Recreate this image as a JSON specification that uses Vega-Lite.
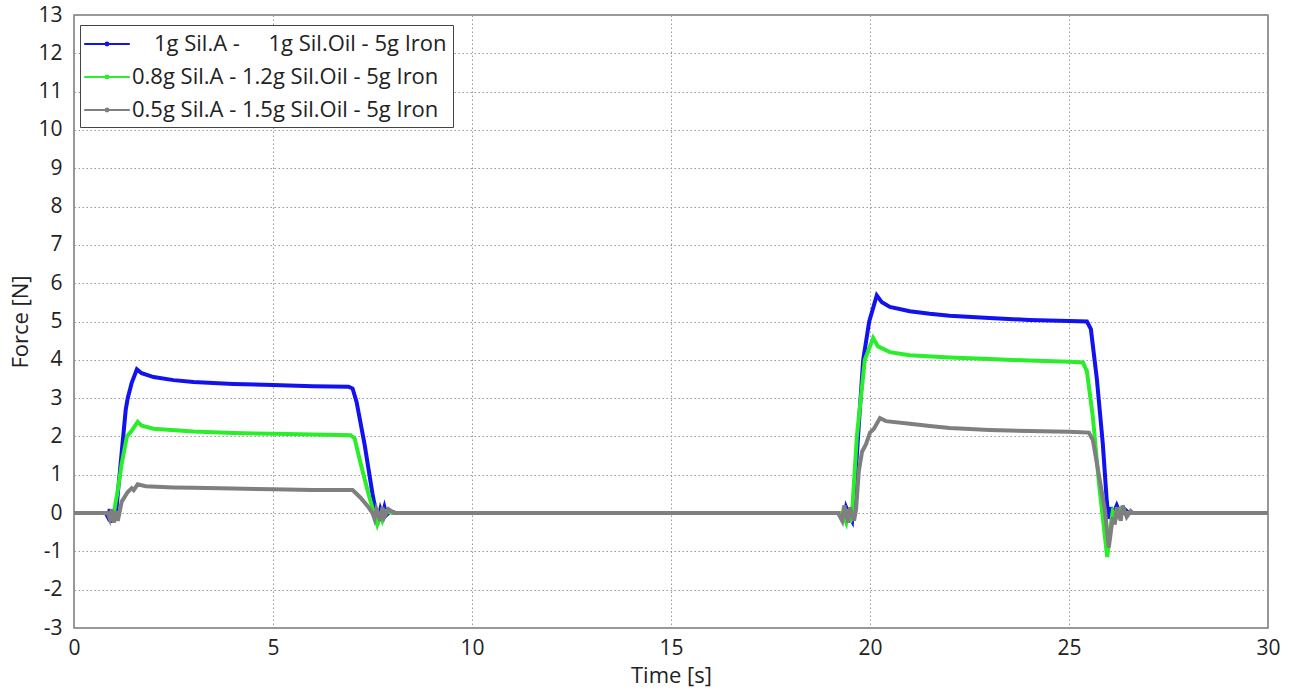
{
  "$schema": "https://vega.github.io/schema/vega-lite/v6.json",
  "autosize": "none",
  "width": 1194,
  "height": 613,
  "padding": {"left": 74, "top": 15, "right": 30, "bottom": 62},
  "background": "white",
  "config": {
    "font": "Open Sans",
    "view": {"stroke": "#777", "strokeWidth": 1.5},
    "axis": {
      "labelFont": "Open Sans", "titleFont": "Open Sans",
      "labelFontSize": 21, "titleFontSize": 22, "titleFontWeight": "normal",
      "labelColor": "#222", "titleColor": "#222", "labelFlush": false,
      "grid": true, "gridColor": "#999", "gridDash": [1.5, 2.5], "gridWidth": 1,
      "ticks": false, "domain": false
    }
  },
  "data": {
    "values": [
      {"t": 0, "f": 0, "s": "A"}, {"t": 0.8, "f": 0, "s": "A"}, {"t": 0.85, "f": -0.1, "s": "A"}, {"t": 0.9, "f": 0.1, "s": "A"}, {"t": 0.95, "f": -0.25, "s": "A"}, {"t": 1.0, "f": 0.05, "s": "A"}, {"t": 1.05, "f": -0.1, "s": "A"}, {"t": 1.1, "f": 0.5, "s": "A"}, {"t": 1.2, "f": 1.6, "s": "A"}, {"t": 1.3, "f": 2.7, "s": "A"}, {"t": 1.35, "f": 3.0, "s": "A"}, {"t": 1.45, "f": 3.4, "s": "A"}, {"t": 1.58, "f": 3.75, "s": "A"}, {"t": 1.7, "f": 3.65, "s": "A"}, {"t": 2.0, "f": 3.55, "s": "A"}, {"t": 2.5, "f": 3.47, "s": "A"}, {"t": 3, "f": 3.42, "s": "A"}, {"t": 4, "f": 3.37, "s": "A"}, {"t": 5, "f": 3.34, "s": "A"}, {"t": 6, "f": 3.31, "s": "A"}, {"t": 6.9, "f": 3.3, "s": "A"}, {"t": 7.0, "f": 3.25, "s": "A"}, {"t": 7.1, "f": 2.9, "s": "A"}, {"t": 7.3, "f": 1.8, "s": "A"}, {"t": 7.5, "f": 0.5, "s": "A"}, {"t": 7.6, "f": -0.05, "s": "A"}, {"t": 7.65, "f": -0.15, "s": "A"}, {"t": 7.7, "f": 0.1, "s": "A"}, {"t": 7.75, "f": -0.05, "s": "A"}, {"t": 7.8, "f": 0.15, "s": "A"}, {"t": 7.85, "f": -0.05, "s": "A"}, {"t": 7.95, "f": 0.05, "s": "A"}, {"t": 8.1, "f": 0, "s": "A"}, {"t": 19.2, "f": 0, "s": "A"}, {"t": 19.35, "f": -0.15, "s": "A"}, {"t": 19.4, "f": 0.15, "s": "A"}, {"t": 19.5, "f": -0.1, "s": "A"}, {"t": 19.55, "f": -0.2, "s": "A"}, {"t": 19.65, "f": 1.2, "s": "A"}, {"t": 19.75, "f": 2.8, "s": "A"}, {"t": 19.83, "f": 4.0, "s": "A"}, {"t": 19.98, "f": 5.0, "s": "A"}, {"t": 20.17, "f": 5.68, "s": "A"}, {"t": 20.3, "f": 5.5, "s": "A"}, {"t": 20.5, "f": 5.38, "s": "A"}, {"t": 21, "f": 5.27, "s": "A"}, {"t": 21.5, "f": 5.2, "s": "A"}, {"t": 22, "f": 5.15, "s": "A"}, {"t": 23, "f": 5.09, "s": "A"}, {"t": 24, "f": 5.04, "s": "A"}, {"t": 25, "f": 5.01, "s": "A"}, {"t": 25.45, "f": 5.0, "s": "A"}, {"t": 25.55, "f": 4.8, "s": "A"}, {"t": 25.7, "f": 3.5, "s": "A"}, {"t": 25.85, "f": 1.8, "s": "A"}, {"t": 25.95, "f": 0.3, "s": "A"}, {"t": 26.0, "f": -0.15, "s": "A"}, {"t": 26.05, "f": 0.15, "s": "A"}, {"t": 26.1, "f": -0.05, "s": "A"}, {"t": 26.2, "f": 0.2, "s": "A"}, {"t": 26.3, "f": -0.05, "s": "A"}, {"t": 26.4, "f": 0.1, "s": "A"}, {"t": 26.5, "f": 0, "s": "A"}, {"t": 30, "f": 0, "s": "A"},

      {"t": 0, "f": 0, "s": "B"}, {"t": 0.9, "f": 0, "s": "B"}, {"t": 0.95, "f": -0.1, "s": "B"}, {"t": 1.0, "f": 0, "s": "B"}, {"t": 1.1, "f": 0.6, "s": "B"}, {"t": 1.2, "f": 1.3, "s": "B"}, {"t": 1.33, "f": 2.0, "s": "B"}, {"t": 1.45, "f": 2.15, "s": "B"}, {"t": 1.6, "f": 2.38, "s": "B"}, {"t": 1.7, "f": 2.28, "s": "B"}, {"t": 2, "f": 2.2, "s": "B"}, {"t": 3, "f": 2.13, "s": "B"}, {"t": 4, "f": 2.09, "s": "B"}, {"t": 5, "f": 2.07, "s": "B"}, {"t": 6, "f": 2.05, "s": "B"}, {"t": 6.95, "f": 2.03, "s": "B"}, {"t": 7.05, "f": 1.95, "s": "B"}, {"t": 7.2, "f": 1.3, "s": "B"}, {"t": 7.4, "f": 0.5, "s": "B"}, {"t": 7.55, "f": -0.05, "s": "B"}, {"t": 7.62, "f": -0.3, "s": "B"}, {"t": 7.7, "f": -0.05, "s": "B"}, {"t": 7.75, "f": -0.2, "s": "B"}, {"t": 7.85, "f": 0.05, "s": "B"}, {"t": 8.0, "f": 0, "s": "B"}, {"t": 19.3, "f": 0, "s": "B"}, {"t": 19.4, "f": -0.25, "s": "B"}, {"t": 19.45, "f": 0.1, "s": "B"}, {"t": 19.5, "f": -0.25, "s": "B"}, {"t": 19.55, "f": 0, "s": "B"}, {"t": 19.67, "f": 2.0, "s": "B"}, {"t": 19.87, "f": 4.0, "s": "B"}, {"t": 20.08, "f": 4.57, "s": "B"}, {"t": 20.2, "f": 4.35, "s": "B"}, {"t": 20.5, "f": 4.2, "s": "B"}, {"t": 21, "f": 4.12, "s": "B"}, {"t": 22, "f": 4.06, "s": "B"}, {"t": 23, "f": 4.02, "s": "B"}, {"t": 24, "f": 3.98, "s": "B"}, {"t": 25, "f": 3.95, "s": "B"}, {"t": 25.35, "f": 3.93, "s": "B"}, {"t": 25.45, "f": 3.7, "s": "B"}, {"t": 25.6, "f": 2.5, "s": "B"}, {"t": 25.75, "f": 0.8, "s": "B"}, {"t": 25.9, "f": -0.6, "s": "B"}, {"t": 25.96, "f": -1.15, "s": "B"}, {"t": 26.0, "f": -0.8, "s": "B"}, {"t": 26.05, "f": -0.3, "s": "B"}, {"t": 26.1, "f": 0.05, "s": "B"}, {"t": 26.2, "f": -0.1, "s": "B"}, {"t": 26.3, "f": 0.1, "s": "B"}, {"t": 26.4, "f": 0, "s": "B"}, {"t": 30, "f": 0, "s": "B"},

      {"t": 0, "f": 0, "s": "C"}, {"t": 0.85, "f": 0, "s": "C"}, {"t": 0.9, "f": -0.15, "s": "C"}, {"t": 0.95, "f": 0.1, "s": "C"}, {"t": 1.0, "f": -0.25, "s": "C"}, {"t": 1.05, "f": 0.05, "s": "C"}, {"t": 1.1, "f": -0.2, "s": "C"}, {"t": 1.2, "f": 0.3, "s": "C"}, {"t": 1.35, "f": 0.55, "s": "C"}, {"t": 1.45, "f": 0.65, "s": "C"}, {"t": 1.5, "f": 0.6, "s": "C"}, {"t": 1.6, "f": 0.75, "s": "C"}, {"t": 1.8, "f": 0.7, "s": "C"}, {"t": 2.5, "f": 0.67, "s": "C"}, {"t": 3, "f": 0.66, "s": "C"}, {"t": 4, "f": 0.64, "s": "C"}, {"t": 5, "f": 0.62, "s": "C"}, {"t": 6, "f": 0.6, "s": "C"}, {"t": 7.0, "f": 0.6, "s": "C"}, {"t": 7.2, "f": 0.4, "s": "C"}, {"t": 7.4, "f": 0.15, "s": "C"}, {"t": 7.5, "f": 0, "s": "C"}, {"t": 7.55, "f": -0.15, "s": "C"}, {"t": 7.6, "f": 0.1, "s": "C"}, {"t": 7.7, "f": -0.2, "s": "C"}, {"t": 7.75, "f": 0.15, "s": "C"}, {"t": 7.8, "f": -0.1, "s": "C"}, {"t": 7.9, "f": 0.1, "s": "C"}, {"t": 8.05, "f": 0, "s": "C"}, {"t": 19.2, "f": 0, "s": "C"}, {"t": 19.3, "f": -0.2, "s": "C"}, {"t": 19.35, "f": 0.2, "s": "C"}, {"t": 19.45, "f": -0.25, "s": "C"}, {"t": 19.5, "f": 0.15, "s": "C"}, {"t": 19.6, "f": -0.2, "s": "C"}, {"t": 19.65, "f": 0.1, "s": "C"}, {"t": 19.72, "f": 1.1, "s": "C"}, {"t": 19.8, "f": 1.6, "s": "C"}, {"t": 19.9, "f": 1.8, "s": "C"}, {"t": 20.0, "f": 2.1, "s": "C"}, {"t": 20.1, "f": 2.2, "s": "C"}, {"t": 20.25, "f": 2.48, "s": "C"}, {"t": 20.4, "f": 2.4, "s": "C"}, {"t": 21, "f": 2.33, "s": "C"}, {"t": 21.5, "f": 2.27, "s": "C"}, {"t": 22, "f": 2.22, "s": "C"}, {"t": 23, "f": 2.17, "s": "C"}, {"t": 24, "f": 2.14, "s": "C"}, {"t": 25, "f": 2.12, "s": "C"}, {"t": 25.5, "f": 2.1, "s": "C"}, {"t": 25.6, "f": 1.9, "s": "C"}, {"t": 25.75, "f": 1.0, "s": "C"}, {"t": 25.9, "f": 0.1, "s": "C"}, {"t": 26.0, "f": -0.9, "s": "C"}, {"t": 26.05, "f": -0.5, "s": "C"}, {"t": 26.1, "f": -0.1, "s": "C"}, {"t": 26.15, "f": -0.3, "s": "C"}, {"t": 26.2, "f": 0.15, "s": "C"}, {"t": 26.3, "f": -0.2, "s": "C"}, {"t": 26.35, "f": 0.2, "s": "C"}, {"t": 26.45, "f": -0.1, "s": "C"}, {"t": 26.55, "f": 0.05, "s": "C"}, {"t": 26.6, "f": 0, "s": "C"}, {"t": 30, "f": 0, "s": "C"}
    ]
  },
  "mark": {"type": "line", "strokeWidth": 4, "interpolate": "linear"},
  "encoding": {
    "x": {"field": "t", "type": "quantitative", "title": "Time [s]",
      "scale": {"domain": [0, 30], "nice": false, "zero": false},
      "axis": {"values": [0, 5, 10, 15, 20, 25, 30], "labelPadding": 9, "titlePadding": 7}},
    "y": {"field": "f", "type": "quantitative", "title": "Force [N]",
      "scale": {"domain": [-3, 13], "nice": false},
      "axis": {"values": [-3, -2, -1, 0, 1, 2, 3, 4, 5, 6, 7, 8, 9, 10, 11, 12, 13], "labelPadding": 12, "titlePadding": 5,
        "labelExpr": "replace(datum.label, '\u2212', '-')"}},
    "color": {"field": "s", "type": "nominal",
      "scale": {"domain": ["A", "B", "C"], "range": ["#1212ee", "#2aee2a", "#7f7f7f"]},
      "legend": {"title": null, "orient": "none", "legendX": 6, "legendY": 10,
        "fillColor": "white", "strokeColor": "#444", "padding": 6,
        "labelExpr": "datum.value == 'A' ? '\u200b\u2002\u20021g Sil.A -\u00a0\u00a0\u00a0\u00a0\u00a01g Sil.Oil - 5g Iron' : datum.value == 'B' ? '0.8g Sil.A - 1.2g Sil.Oil - 5g Iron' : '0.5g Sil.A - 1.5g Sil.Oil - 5g Iron'",
        "symbolType": "M-1.9,0H1.9M-0.12,0a0.12,0.12 0 1 0 0.24 0a0.12,0.12 0 1 0 -0.24 0",
        "symbolSize": 576, "symbolStrokeWidth": 2, "symbolOffset": 8,
        "labelFont": "Open Sans", "labelFontSize": 22, "labelColor": "#222", "labelOffset": 12,
        "rowPadding": 9, "labelLimit": 600}}
  }
}
